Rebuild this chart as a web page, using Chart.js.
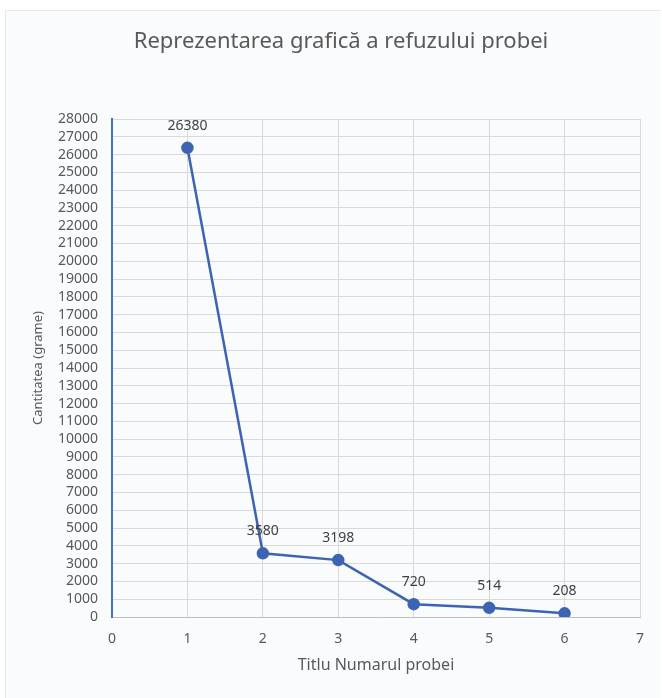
<!DOCTYPE html>
<html>
<head>
<meta charset="utf-8">
<script src="https://cdn.jsdelivr.net/npm/chart.js@4"></script>
<style>
  body { margin: 0; background: #fff; }
  #box { position: absolute; left: 5px; top: 10px; width: 655px; height: 687px;
         background: #f9fbfd; border-left: 1px solid #e6e9ec; border-top: 1px solid #e6e9ec; }
</style>
</head>
<body>
<div id="box"><canvas id="grafic"></canvas></div>
<script>
// date
const probe = [1, 2, 3, 4, 5, 6];
const cantitati = [26380, 3580, 3198, 720, 514, 208];
const yMax = 28000;
const xMax = 7;

const etichete = {
  id: 'etichete',
  afterDatasetsDraw(chart) {
    const ctx = chart.ctx;
    const meta = chart.getDatasetMeta(0);
    ctx.save();
    ctx.font = '14px "Noto Sans"';
    ctx.fillStyle = '#404040';
    ctx.textAlign = 'center';
    ctx.textBaseline = 'middle';
    meta.data.forEach((pt, i) => {
      ctx.fillText(String(cantitati[i]), pt.x, pt.y - 22);
    });
    ctx.restore();
  }
};

new Chart(document.getElementById('grafic').getContext('2d'), {
  type: 'line',
  data: {
    datasets: [{
      label: 'Refuz',
      data: probe.map((p, i) => ({ x: p, y: cantitati[i] })),
      borderColor: '#3d63b3',
      backgroundColor: '#3d63b3',
      borderWidth: 2.5,
      pointRadius: 5,
      pointHoverRadius: 5,
      tension: 0
    }]
  },
  options: {
    responsive: true,
    maintainAspectRatio: false,
    animation: false,
    layout: { padding: { left: 36, right: 21 } },
    plugins: {
      legend: { display: false },
      tooltip: { enabled: false },
      title: {
        display: true,
        text: 'Reprezentarea grafică a refuzului probei',
        color: '#595959',
        font: { family: 'Noto Sans', size: 22, weight: 'normal' },
        padding: { top: 18, bottom: 63.6 }
      }
    },
    scales: {
      x: {
        type: 'linear',
        min: 0,
        max: xMax,
        afterFit(s) { s.height = 81; },
        ticks: { stepSize: 1, color: '#595959', font: { family: 'Noto Sans', size: 14 }, padding: 14 },
        grid: { color: '#d9d9d9', drawTicks: false },
        border: { color: '#bfbfbf', width: 1 },
        title: {
          display: true,
          text: 'Titlu Numarul probei',
          color: '#595959',
          font: { family: 'Noto Sans', size: 16 },
          padding: { bottom: 23 }
        }
      },
      y: {
        min: 0,
        max: yMax,
        afterFit(s) { s.width = 70; },
        ticks: {
          stepSize: 1000, autoSkip: false, color: '#595959',
          font: { family: 'Noto Sans', size: 14 }, padding: 14,
          callback: v => String(v)
        },
        grid: { color: '#d9d9d9', drawTicks: false },
        border: { color: '#4472c4', width: 2 },
        title: {
          display: true,
          text: 'Cantitatea (grame)',
          color: '#595959',
          font: { family: 'Noto Sans', size: 13 },
          padding: { top: -11.8 }
        }
      }
    }
  },
  plugins: [etichete]
});
</script>
</body>
</html>
